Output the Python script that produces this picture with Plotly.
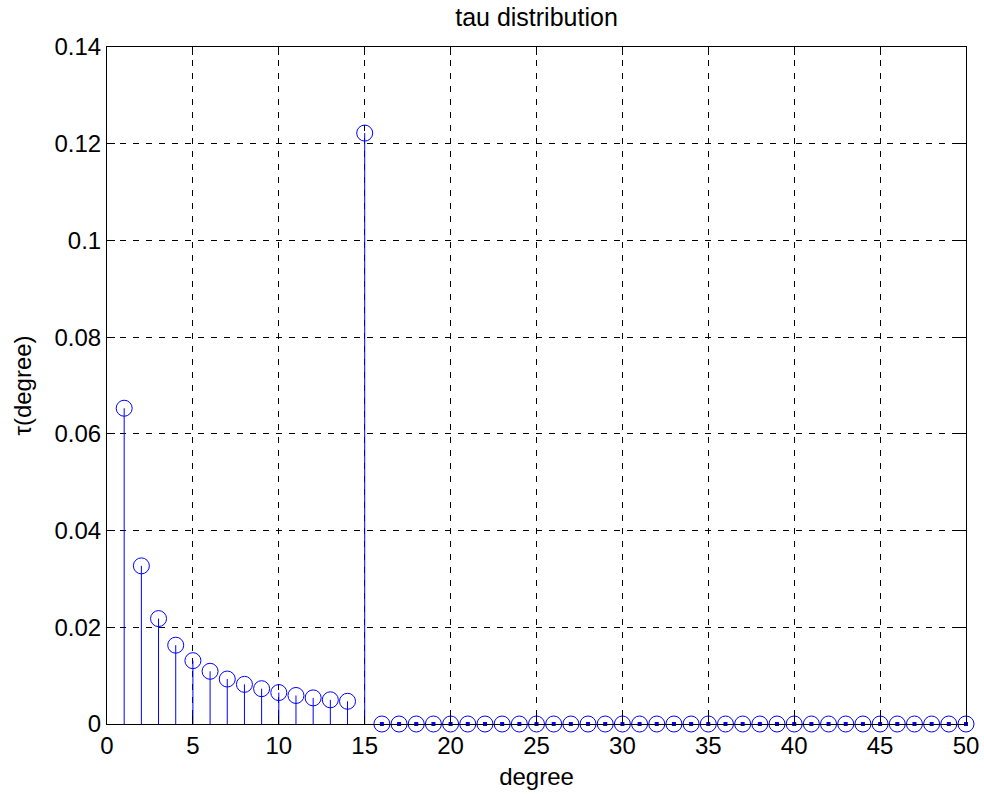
import plotly.graph_objects as go

degree = list(range(1, 51))
tau = [0.0653, 0.0327, 0.0218, 0.0163, 0.0131, 0.0109, 0.0093, 0.0082, 0.0073, 0.0065,
       0.0059, 0.0054, 0.0050, 0.0047, 0.1222] + [0.0] * 35

x_ticks = [0, 5, 10, 15, 20, 25, 30, 35, 40, 45, 50]
y_ticks = [0, 0.02, 0.04, 0.06, 0.08, 0.1, 0.12, 0.14]
y_tick_text = ["0", "0.02", "0.04", "0.06", "0.08", "0.1", "0.12", "0.14"]

BLUE = "rgb(0,0,255)"
FONT = "Liberation Sans, Arial, sans-serif"
FS = 24

stem_x, stem_y = [], []
for d, t in zip(degree, tau):
    stem_x += [d, d, None]
    stem_y += [0, t, None]

zx = [d for d, t in zip(degree, tau) if t == 0]
zy = [t for t in tau if t == 0]

fig = go.Figure()
fig.add_trace(go.Scatter(x=stem_x, y=stem_y, mode="lines",
                         line=dict(color=BLUE, width=1), cliponaxis=False,
                         hoverinfo="skip", showlegend=False))
fig.add_trace(go.Scatter(x=zx, y=zy, mode="markers",
                         marker=dict(symbol="square", size=4, color=BLUE),
                         cliponaxis=False, showlegend=False))
fig.add_trace(go.Scatter(x=degree, y=tau, mode="markers",
                         marker=dict(symbol="circle-open", size=16,
                                     color=BLUE, line=dict(color=BLUE, width=1)),
                         cliponaxis=False, showlegend=False))

axis_common = dict(
    showline=True, linecolor="black", linewidth=1, mirror="ticks",
    ticks="inside", ticklen=8, tickcolor="black", tickwidth=1,
    showgrid=True, gridcolor="black", gridwidth=1, griddash="6px,7px",
    zeroline=False, tickfont=dict(family=FONT, size=FS, color="black"),
)

fig.update_layout(
    width=984, height=794,
    margin=dict(l=107, r=18, t=47, b=70, autoexpand=False),
    paper_bgcolor="white", plot_bgcolor="white",
    font=dict(family=FONT, size=FS, color="black"),
    title=dict(text="tau distribution", x=0.5, xanchor="center",
               xref="paper", y=1 - 17 / 794, yref="container", yanchor="middle",
               font=dict(family=FONT, size=25, color="black")),
    xaxis=dict(range=[0, 50], tickvals=x_ticks, ticktext=[str(v) for v in x_ticks],
               title=dict(text="degree", standoff=10,
                          font=dict(family=FONT, size=FS, color="black")),
               automargin=False, **axis_common),
    yaxis=dict(range=[0, 0.14], tickvals=y_ticks, ticktext=y_tick_text,
               title=dict(text="τ(degree)", standoff=16,
                          font=dict(family=FONT, size=FS, color="black")),
               automargin=False, **axis_common),
)

fig.write_html("out.html")
